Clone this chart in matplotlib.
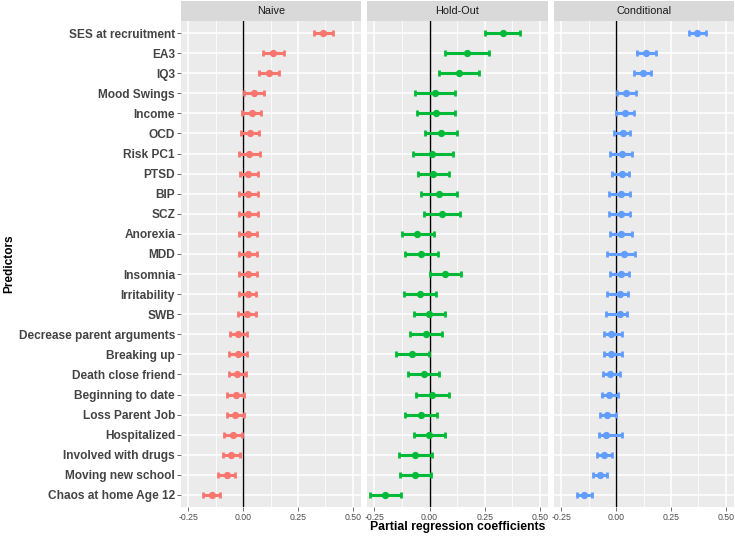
import matplotlib
matplotlib.use("Agg")
import matplotlib.pyplot as plt
import numpy as np

plt.rcParams['font.family'] = ['Liberation Sans', 'DejaVu Sans']

predictors = ["SES at recruitment", "EA3", "IQ3", "Mood Swings", "Income", "OCD",
              "Risk PC1", "PTSD", "BIP", "SCZ", "Anorexia", "MDD", "Insomnia",
              "Irritability", "SWB", "Decrease parent arguments", "Breaking up",
              "Death close friend", "Beginning to date", "Loss Parent Job",
              "Hospitalized", "Involved with drugs", "Moving new school",
              "Chaos at home Age 12"]

models = ["Naive", "Hold-Out", "Conditional"]
colors = ["#F8766D", "#00BA38", "#619CFF"]

naive_est = [0.365, 0.136, 0.118, 0.047, 0.039, 0.029, 0.027, 0.023, 0.023, 0.023, 0.021, 0.021,
             0.021, 0.020, 0.017, -0.024, -0.026, -0.027, -0.035, -0.036, -0.048, -0.055, -0.074, -0.144]
naive_lo = [0.324, 0.088, 0.074, 0.005, -0.005, -0.009, -0.018, -0.015, -0.018, -0.020, -0.018, -0.020,
            -0.018, -0.020, -0.023, -0.062, -0.065, -0.067, -0.074, -0.074, -0.086, -0.092, -0.114, -0.182]
naive_hi = [0.408, 0.186, 0.164, 0.094, 0.083, 0.070, 0.076, 0.065, 0.067, 0.068, 0.064, 0.064,
            0.061, 0.059, 0.056, 0.017, 0.017, 0.014, 0.005, 0.003, -0.008, -0.014, -0.036, -0.105]

holdout_est = [0.331, 0.169, 0.133, 0.023, 0.027, 0.050, 0.012, 0.017, 0.043, 0.055, -0.055, -0.037,
               0.072, -0.044, -0.002, -0.015, -0.078, -0.027, 0.012, -0.038, -0.002, -0.066, -0.067, -0.201]
holdout_lo = [0.253, 0.070, 0.043, -0.067, -0.058, -0.021, -0.076, -0.053, -0.037, -0.026, -0.127, -0.110,
              0.003, -0.116, -0.073, -0.088, -0.152, -0.099, -0.061, -0.110, -0.073, -0.139, -0.136, -0.271]
holdout_hi = [0.410, 0.268, 0.224, 0.116, 0.113, 0.123, 0.104, 0.090, 0.122, 0.137, 0.018, 0.040,
              0.142, 0.029, 0.070, 0.056, -0.005, 0.044, 0.088, 0.034, 0.070, 0.011, 0.006, -0.131]

cond_est = [0.369, 0.137, 0.120, 0.046, 0.041, 0.030, 0.026, 0.024, 0.023, 0.023, 0.021, 0.037,
            0.020, 0.018, 0.015, -0.024, -0.026, -0.029, -0.035, -0.040, -0.049, -0.055, -0.076, -0.145]
cond_lo = [0.334, 0.095, 0.082, 0.005, -0.002, -0.012, -0.029, -0.021, -0.034, -0.034, -0.030, -0.043,
           -0.030, -0.041, -0.049, -0.058, -0.058, -0.062, -0.067, -0.075, -0.081, -0.088, -0.108, -0.178]
cond_hi = [0.409, 0.181, 0.160, 0.088, 0.082, 0.064, 0.072, 0.059, 0.062, 0.064, 0.072, 0.087,
           0.059, 0.053, 0.050, 0.026, 0.026, 0.017, 0.008, 0.000, 0.024, -0.020, -0.041, -0.110]

xticks = [-0.25, 0.00, 0.25, 0.50]
xtick_labels = ["-0.25", "0.00", "0.25", "0.50"]

data = [(naive_est, naive_lo, naive_hi), (holdout_est, holdout_lo, holdout_hi),
        (cond_est, cond_lo, cond_hi)]

W, H = 735, 536
fig = plt.figure(figsize=(W / 100, H / 100), dpi=100)

panel_x = [(181, 361), (367, 548), (554, 734)]
ptop, pbot = 21, 507
strip_top = 1

n = len(predictors)
ypos = np.arange(n)[::-1]  # top row first

for i, (m, col, (est, lo, hi)) in enumerate(zip(models, colors, data)):
    x0, x1 = panel_x[i]
    ax = fig.add_axes([x0 / W, 1 - pbot / H, (x1 - x0) / W, (pbot - ptop) / H])
    ax.set_facecolor("#EBEBEB")
    for s in ax.spines.values():
        s.set_visible(False)
    ax.set_xlim(-0.284, 0.537)
    ax.set_ylim(-0.6, n - 1 + 0.6)
    ax.set_xticks(xticks)
    ax.set_xticklabels(xtick_labels)
    ax.set_xticks([-0.125, 0.125, 0.375], minor=True)
    ax.set_yticks(ypos)
    ax.grid(True, which="major", color="white", lw=1.1)
    ax.grid(True, which="minor", axis="x", color="white", lw=0.55)
    ax.set_axisbelow(True)
    ax.tick_params(axis="both", which="major", length=2.75, width=0.5, color="#333333",
                   labelsize=6.3, labelcolor="#4D4D4D", pad=1.5)
    ax.tick_params(axis="both", which="minor", length=0)
    if i == 0:
        ax.set_yticklabels(predictors, fontsize=8.6, fontweight="bold", color="#444444")
    else:
        ax.tick_params(axis="y", length=0, labelleft=False)
    ax.axvline(0, color="black", lw=1.0, zorder=2)
    est = np.array(est); lo = np.array(lo); hi = np.array(hi)
    ax.errorbar(est, ypos, xerr=[est - lo, hi - est], fmt="o", color=col, ecolor=col,
                elinewidth=2.2, capsize=2.0, capthick=2.0, markersize=4.2, zorder=3)
    # strip
    sax = fig.add_axes([x0 / W, 1 - ptop / H, (x1 - x0) / W, (ptop - strip_top) / H])
    sax.set_facecolor("#D9D9D9")
    sax.set_xticks([]); sax.set_yticks([])
    for s in sax.spines.values():
        s.set_visible(False)
    sax.text(0.5, 0.5, m, ha="center", va="center", fontsize=7.8, color="#1A1A1A",
             transform=sax.transAxes)

fig.text((367 + 548) / 2 / W, 1 - 527 / H, "Partial regression coefficients",
         ha="center", va="center", fontsize=8.8, fontweight="bold")
fig.text(9 / W, 1 - ((ptop + pbot) / 2) / H, "Predictors", rotation=90,
         ha="center", va="center", fontsize=8.6, fontweight="bold")

fig.savefig("out.png", dpi=100)
